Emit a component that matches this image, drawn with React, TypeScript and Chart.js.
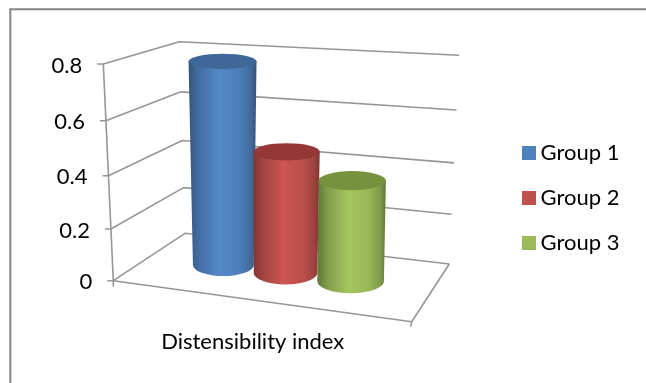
import { useEffect, useRef } from "react";
import { Chart, LinearScale, registerables } from "chart.js";

const categories = ["Distensibility index"];
const seriesNames = ["Group 1", "Group 2", "Group 3"];
const group1 = [0.785];
const group2 = [0.47];
const group3 = [0.385];
const seriesColors = ["#4F81BD", "#C0504D", "#9BBB59"];
const capColors = ["#3F6797", "#953735", "#76923C"];

const LINE = "#969696";
const FRAME = "#868686";
const FONT = "Lato, Carlito, sans-serif";

// Screen corners of the 3D box: floor (F) and ceiling (C), front/back, left/right.
const box = {
  FFL: [113.3, 280.7], FFR: [411.7, 321.7], FBL: [185, 233.3], FBR: [449.3, 264],
  CFL: [103.3, 64], CFR: [426, 85.7], CBL: [179.3, 41.7], CBR: [459, 55.3],
};
type P = number[];
const lerp = (a: P, b: P, k: number): P => [a[0] + (b[0] - a[0]) * k, a[1] + (b[1] - a[1]) * k];
const bilerp = (fl: P, fr: P, bl: P, br: P, u: number, w: number) => lerp(lerp(fl, fr, u), lerp(bl, br, u), w);

// Maps box coordinates (across, up, into the depth) to canvas pixels.
function project(s: number, t: number, w: number): P {
  const d = 0.105 * (1 - t);
  const u = s / (1 + d - d * s);
  const floor = bilerp(box.FFL, box.FFR, box.FBL, box.FBR, u, w);
  const ceil = bilerp(box.CFL, box.CFR, box.CBL, box.CBR, u, w);
  return lerp(floor, ceil, t);
}

// Linear value axis whose ticks close up with depth, as on a receding wall.
class PerspectiveLinearScale extends LinearScale {
  static id = "perspectiveLinear";
  static defaults = {};
  getPixelForValue(value: number) {
    const self = this as any;
    const f = (value - self.min) / (self.max - self.min);
    const t = f / (1.064 - 0.064 * f);
    return self.bottom - t * (self.bottom - self.top);
  }
  // Tick labels follow the slant of the front-left edge.
  _computeLabelItems(area: any) {
    const self = this as any;
    const items = super._computeLabelItems(area);
    items.forEach((item: any) => {
      const t = (self.bottom - item.options.translation[1]) / (self.bottom - self.top);
      const edge = project(0, t, 0);
      item.options.translation = [edge[0] - 21, edge[1] + 1.5];
    });
    return items;
  }
}
Chart.register(...registerables, PerspectiveLinearScale as any);

const shade = (hex: string, k: number) => {
  const n = parseInt(hex.slice(1), 16);
  const c = [(n >> 16) & 255, (n >> 8) & 255, n & 255].map((v) => Math.min(255, Math.round(v * k)));
  return `rgb(${c[0]},${c[1]},${c[2]})`;
};

const line = (ctx: CanvasRenderingContext2D, pts: P[]) => {
  ctx.beginPath();
  pts.forEach((p, i) => (i ? ctx.lineTo(p[0], p[1]) : ctx.moveTo(p[0], p[1])));
  ctx.stroke();
};

const SLOT_SHIFT = 0.0066;
const DEPTH_CENTRE = 0.525;
const DEPTH_RADIUS = 0.22;
const TOP_LEAN = -4.5;

// A level rim: centre, half width and half height measured through the projection.
function levelRim(sc: number, rs: number, t: number) {
  const rw = DEPTH_RADIUS + 0.09 * Math.pow(t, 4);
  const centre = project(sc, t, DEPTH_CENTRE);
  const hw = (project(sc + rs, t, DEPTH_CENTRE)[0] - project(sc - rs, t, DEPTH_CENTRE)[0]) / 2;
  const hh = (project(sc, t, DEPTH_CENTRE - rw)[1] - project(sc, t, DEPTH_CENTRE + rw)[1]) / 2;
  const cx = t > 0 ? centre[0] + TOP_LEAN : centre[0] - 0.5;
  return { cx, cy: centre[1], hw, hh };
}

function drawCylinder(ctx: CanvasRenderingContext2D, area: any, bar: any, color: string, cap: string) {
  const sc = (bar.x - area.left) / area.width + SLOT_SHIFT;
  const rs = bar.width / 2 / area.width;
  const t = (area.bottom - bar.y) / area.height;
  const base = levelRim(sc, rs, 0);
  const top = levelRim(sc, rs, t);

  const g = ctx.createLinearGradient(top.cx - top.hw, 0, top.cx + top.hw, 0);
  g.addColorStop(0, shade(color, 0.66));
  g.addColorStop(0.14, shade(color, 0.84));
  g.addColorStop(0.45, shade(color, 1.06));
  g.addColorStop(0.75, shade(color, 0.98));
  g.addColorStop(0.92, shade(color, 0.82));
  g.addColorStop(1, shade(color, 0.64));
  ctx.fillStyle = g;
  ctx.beginPath();
  ctx.ellipse(base.cx, base.cy, base.hw, base.hh, 0, Math.PI, 0, true);
  ctx.lineTo(top.cx + top.hw, top.cy);
  ctx.lineTo(top.cx - top.hw, top.cy);
  ctx.closePath();
  ctx.fill();

  ctx.fillStyle = cap;
  ctx.beginPath();
  ctx.ellipse(top.cx, top.cy, top.hw, top.hh, 0, 0, 2 * Math.PI);
  ctx.fill();
}

const box3d = {
  id: "box3d",
  beforeDraw(chart: any) {
    const { ctx, width, height } = chart;
    ctx.save();
    ctx.fillStyle = "#fff";
    ctx.fillRect(0, 0, width, height);
    ctx.strokeStyle = FRAME;
    ctx.lineWidth = 2;
    line(ctx, [[10.3, height], [10.3, 9.2], [width, 9.2]]);
    ctx.restore();
  },
  afterLayout(chart: any) {
    // Legend sits well clear of the plot, independent of the plot's width.
    const legend = chart.legend;
    legend.left = 499;
    legend.right = 619.5;
    legend.top -= 25.5;
    legend.bottom -= 25.5;
  },
  beforeDatasetsDraw(chart: any) {
    const { ctx, chartArea: area, scales } = chart;
    const y = scales.y;
    ctx.save();
    ctx.strokeStyle = LINE;
    ctx.lineWidth = 1.6;
    ctx.lineJoin = "round";
    y.ticks.forEach((tick: any) => {
      const t = (area.bottom - y.getPixelForValue(tick.value)) / area.height;
      const front = project(0, t, 0);
      line(ctx, [[front[0] - 6, front[1]], front, project(0, t, 1), project(1, t, 1)]);
    });
    line(ctx, [box.CFL, box.FFL, box.FFR, box.FBR]);
    line(ctx, [box.FFL, [box.FFL[0], box.FFL[1] + 6]]);
    line(ctx, [box.FFR, [box.FFR[0] - 1, box.FFR[1] + 5]]);
    chart.data.datasets.forEach((ds: any, i: number) => {
      drawCylinder(ctx, area, chart.getDatasetMeta(i).data[0], ds.backgroundColor, capColors[i]);
    });
    ctx.restore();
    return false;
  },
};

export default function App() {
  const ref = useRef<HTMLCanvasElement>(null);
  useEffect(() => {
    const values = [group1, group2, group3];
    const chart = new Chart(ref.current as HTMLCanvasElement, {
      type: "bar",
      data: {
        labels: categories,
        datasets: seriesNames.map((label, i) => ({
          label,
          data: values[i],
          backgroundColor: seriesColors[i],
          borderWidth: 0,
          barPercentage: 1,
          categoryPercentage: 0.681,
        })),
      },
      options: {
        responsive: false,
        animation: false,
        devicePixelRatio: 1,
        layout: { padding: { top: 64, bottom: 0, left: 0, right: 100 } },
        plugins: {
          tooltip: { enabled: false },
          legend: {
            position: "right",
            labels: {
              boxWidth: 14,
              boxHeight: 14,
              padding: 23,
              color: "#000",
              textAlign: "right",
              font: { family: FONT, size: 22 },
            },
          },
        },
        scales: {
          x: {
            grid: { display: false },
            border: { display: false },
            ticks: { color: "#000", padding: 40, font: { family: FONT, size: 22 }, maxRotation: 0 },
            afterFit(scale: any) {
              scale.height = 102;
            },
          },
          y: {
            type: "perspectiveLinear",
            min: 0,
            max: 0.8,
            grid: { display: false },
            border: { display: false },
            ticks: {
              stepSize: 0.2,
              color: "#000",
              font: { family: FONT, size: 22 },
              callback: (v: any) => (Number(v) === 0 ? "0" : Number(v).toFixed(1)),
            },
            afterFit(scale: any) {
              scale.width = 96;
            },
          },
        },
      } as any,
      plugins: [box3d],
    });
    return () => chart.destroy();
  }, []);
  return (
    <div style={{ position: "absolute", left: 0, top: 0, width: 646, height: 383 }}>
      <canvas ref={ref} width={646} height={383} style={{ display: "block" }} />
    </div>
  );
}
